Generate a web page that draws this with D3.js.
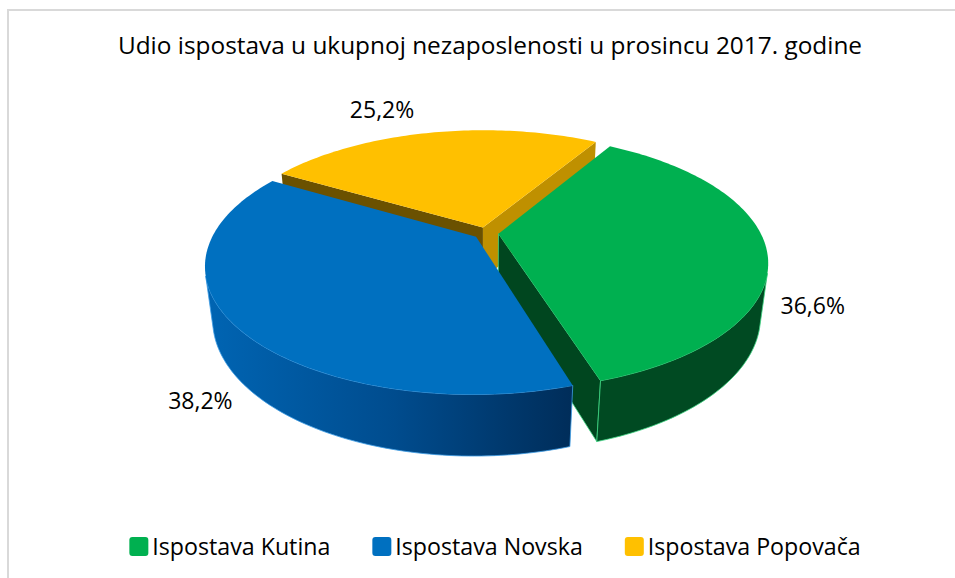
<!DOCTYPE html>
<html>
<head>
<meta charset="utf-8">
<script src="https://cdn.jsdelivr.net/npm/d3@7"></script>
<style>
  body { margin: 0; background: #fff; }
  svg { display: block; font-family: 'Open Sans', Lato, sans-serif; }
</style>
</head>
<body>
<svg id="chart" width="955" height="578"></svg>
<script>
const title = 'Udio ispostava u ukupnoj nezaposlenosti u prosincu 2017. godine';
const categories = ['Ispostava Kutina', 'Ispostava Novska', 'Ispostava Popovača'];
const shares = [36.6, 38.2, 25.2];
const shareLabels = ['36,6%', '38,2%', '25,2%'];

// face colours per slice
const topColors = ['#00B050', '#0070C0', '#FFC000'];
const wallColors = ['#004A22', 'url(#blueWall)', '#7F6000'];
const cutStartColors = ['#00622D', '#00487F', '#6B5100'];
const cutEndColors = ['#00461F', '#003A6A', '#BF9000'];
const edgeColors = ['#3CD681', '#3E9DE6', 'none'];
// label nudges in px (screen), relative to projected anchor
const labelNudge = [[0, 1], [14, -5], [-38, -4]];

const cx = 486, cy = 233, R = 262;
const tilt = 27.5 * Math.PI / 180, dist = 4, depth = 0.23, explode = 0.048;
const start = 31 * Math.PI / 180;

const sx = d3.scaleLinear().domain([-1, 1]).range([cx - R, cx + R]);
const sy = d3.scaleLinear().domain([-1, 1]).range([cy + R, cy - R]);

const ct = Math.cos(tilt), st = Math.sin(tilt);
const cam = [0, dist * st, -dist * ct];

function project(X, Y, Z) {
  const yc = Y * ct + Z * st;
  const zc = -Y * st + Z * ct;
  const w = dist / (dist + zc);
  return [sx(X * w), sy(yc * w)];
}

function faces(n, p) {
  const d = [cam[0] - p[0], cam[1] - p[1], cam[2] - p[2]];
  return n[0] * d[0] + n[1] * d[1] + n[2] * d[2] > 0;
}

const pie = d3.pie().sort(null).value(d => d)
  .startAngle(start).endAngle(start + 2 * Math.PI);
const arcs = pie(shares).map((a, i) => {
  const mid = (a.startAngle + a.endAngle) / 2;
  return { ...a, i, mid, ox: explode * Math.sin(mid), oz: explode * Math.cos(mid) };
});

const svg = d3.select('#chart');
const defs = svg.append('defs');
const grad = defs.append('linearGradient').attr('id', 'blueWall')
  .attr('gradientUnits', 'userSpaceOnUse')
  .attr('x1', sx(-1.05)).attr('x2', sx(0.35)).attr('y1', 0).attr('y2', 0);
grad.append('stop').attr('offset', 0).attr('stop-color', '#0064B2');
grad.append('stop').attr('offset', 0.5).attr('stop-color', '#004C8E');
grad.append('stop').attr('offset', 1).attr('stop-color', '#002C58');

svg.append('rect')
  .attr('x', 8).attr('y', 10).attr('width', 960).attr('height', 600)
  .attr('fill', '#fff').attr('stroke', '#D9D9D9').attr('stroke-width', 2);

svg.append('text')
  .attr('x', 490).attr('y', 54).attr('text-anchor', 'middle')
  .attr('font-size', 24.4).attr('fill', '#000').text(title);

const line = d3.line();
const pieG = svg.append('g');

// far slices first
const order = arcs.slice().sort((a, b) => b.oz - a.oz);

order.forEach(a => {
  const g = pieG.append('g');
  const pt = (ang, r, Y) => project(a.ox + r * Math.sin(ang), Y, a.oz + r * Math.cos(ang));
  const steps = Math.max(8, Math.ceil((a.endAngle - a.startAngle) / 0.02));
  const angs = d3.range(steps + 1).map(k => a.startAngle + (a.endAngle - a.startAngle) * k / steps);
  const apex = [a.ox, 0, a.oz];
  const stroke = edgeColors[a.i];

  // radial cut faces
  const cut = (ang, n, fill) => {
    if (!faces(n, apex)) return;
    const poly = [pt(ang, 0, 0), pt(ang, 1, 0), pt(ang, 1, -depth), pt(ang, 0, -depth)];
    g.append('path').attr('d', line(poly) + 'Z')
      .attr('fill', fill).attr('stroke', stroke).attr('stroke-width', 0.8)
      .attr('stroke-linejoin', 'round');
  };
  cut(a.startAngle, [-Math.cos(a.startAngle), 0, Math.sin(a.startAngle)], cutStartColors[a.i]);
  cut(a.endAngle, [Math.cos(a.endAngle), 0, -Math.sin(a.endAngle)], cutEndColors[a.i]);

  // outer wall, visible runs only
  let run = [];
  const flush = () => {
    if (run.length > 1) {
      const top = run.map(t => pt(t, 1, 0));
      const bot = run.map(t => pt(t, 1, -depth)).reverse();
      g.append('path').attr('d', line(top.concat(bot)) + 'Z')
        .attr('fill', wallColors[a.i]).attr('stroke', stroke).attr('stroke-width', 0.8)
        .attr('stroke-linejoin', 'round');
    }
    run = [];
  };
  angs.forEach(t => {
    const p = [a.ox + Math.sin(t), -depth / 2, a.oz + Math.cos(t)];
    if (faces([Math.sin(t), 0, Math.cos(t)], p)) run.push(t);
    else flush();
  });
  flush();

  // top face
  const topPoly = [pt(0, 0, 0)].concat(angs.map(t => pt(t, 1, 0)));
  g.append('path').attr('d', line(topPoly) + 'Z').attr('fill', topColors[a.i]);
});

// value labels
const labelG = svg.append('g');
arcs.forEach(a => {
  const Y = a.i === 2 ? 0 : -depth;
  const r = a.i === 2 ? 1.25 : 1.2;
  const p = project(a.ox + r * Math.sin(a.mid), Y, a.oz + r * Math.cos(a.mid));
  labelG.append('text')
    .attr('x', p[0] + labelNudge[a.i][0]).attr('y', p[1] + labelNudge[a.i][1])
    .attr('dy', '0.35em').attr('text-anchor', 'middle')
    .attr('font-size', 23).attr('fill', '#000').text(shareLabels[a.i]);
});

// legend
const legend = svg.append('g');
let lx = 0;
categories.forEach((c, i) => {
  const item = legend.append('g').attr('transform', `translate(${lx},0)`);
  item.append('rect').attr('x', 0).attr('y', 537).attr('width', 19).attr('height', 19)
    .attr('rx', 3).attr('fill', topColors[i]);
  const t = item.append('text').attr('x', 23).attr('y', 555)
    .attr('font-size', 23.2).attr('fill', '#000').text(c);
  lx += 23 + t.node().getComputedTextLength() + 42;
});
const lw = lx - 42;
legend.attr('transform', `translate(${495 - lw / 2},0)`);
</script>
</body>
</html>
